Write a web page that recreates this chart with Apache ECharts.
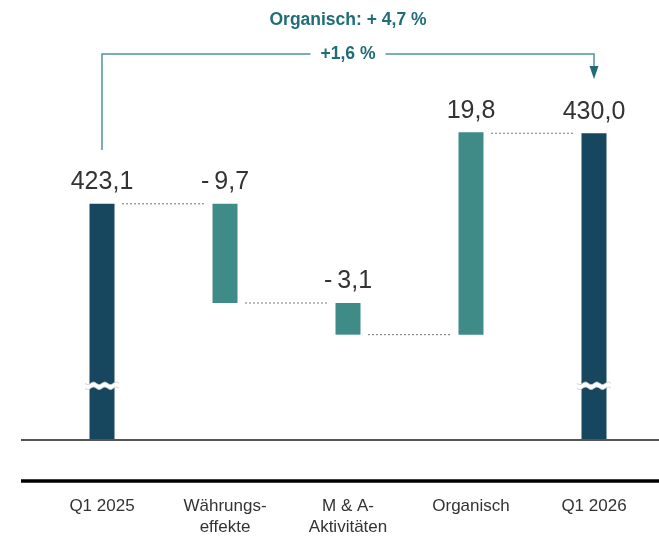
<!DOCTYPE html>
<html><head><meta charset="utf-8">
<script src="https://cdn.jsdelivr.net/npm/echarts@6/dist/echarts.min.js"></script>
<style>html,body{margin:0;padding:0;background:#fff}#c{width:659px;height:538px}</style>
</head><body><div id="c"></div>
<script>
const categories = ['Q1 2025', 'Währungs-\neffekte', 'M & A-\nAktivitäten', 'Organisch', 'Q1 2026'];
const values = [423.1, -9.7, -3.1, 19.8, 430.0];
const isTotal = [true, false, false, false, true];
const valueLabels = ['423,1', '-\u20099,7', '-\u20093,1', '19,8', '430,0'];
const annotationTop = 'Organisch: + 4,7 %';
const annotationBracket = '+1,6 %';
const axisMin = 400, axisMax = 440;
const breakValue = 405.3;

const DARK = '#17465f', TEAL = '#3f8b88', ANN = '#1f6d76', ANNLINE = '#4e949a';

const base = [], visible = [];
let running = 0;
values.forEach((v, i) => {
  if (isTotal[i]) { base.push(0); visible.push(v); running = v; }
  else if (v < 0) { running = running + v; base.push(+running.toFixed(1)); visible.push(-v); }
  else { base.push(+running.toFixed(1)); visible.push(v); running = running + v; }
});
const connectors = [];
for (let i = 0; i < values.length - 1; i++) {
  let lvl;
  if (isTotal[i]) lvl = values[i];
  else lvl = base[i] + (values[i] < 0 ? 0 : visible[i]);
  if (i === values.length - 2) lvl = values[values.length - 1];
  connectors.push([i, lvl]);
}
const breaks = values.map((v, i) => isTotal[i] ? [i, breakValue] : null).filter(Boolean);

const chart = echarts.init(document.getElementById('c'));
chart.setOption({
  animation: false,
  grid: { left: 40.5, right: 3.5, top: 31, bottom: 93 },
  xAxis: {
    type: 'category', data: categories,
    axisLine: { show: false }, axisTick: { show: false },
    axisLabel: { margin: 56, fontSize: 17, lineHeight: 21, color: '#333', fontFamily: 'Liberation Sans' }
  },
  yAxis: { type: 'value', min: axisMin, max: axisMax, show: false, splitLine: { show: false } },
  series: [
    { type: 'bar', stack: 'w', data: base, barWidth: 25, itemStyle: { color: 'transparent' }, silent: true },
    {
      type: 'bar', stack: 'w', barWidth: 25,
      data: visible.map((v, i) => ({ value: v, itemStyle: { color: isTotal[i] ? DARK : TEAL } })),
      label: {
        show: true, position: 'top', distance: 9, fontSize: 25, color: '#333',
        fontFamily: 'Liberation Sans', formatter: p => valueLabels[p.dataIndex]
      }
    },
    {
      type: 'custom', data: connectors, silent: true, z: 1,
      renderItem: (params, api) => {
        const i = api.value(0), lvl = api.value(1);
        const p1 = api.coord([i, lvl]), p2 = api.coord([i + 1, lvl]);
        return { type: 'line', shape: { x1: p1[0] + 20, y1: p1[1], x2: p2[0] - 20, y2: p2[1] },
          style: { stroke: '#777', lineWidth: 1, lineDash: [2, 2] } };
      }
    },
    {
      type: 'custom', data: breaks, silent: true, z: 5,
      renderItem: (params, api) => {
        const c = api.coord([api.value(0), api.value(1)]);
        const w = 34, x0 = c[0] - w / 2, y = c[1];
        const top = [], bot = [];
        const n = 24;
        for (let k = 0; k <= n; k++) {
          const x = x0 + w * k / n;
          const dy = 1.3 * Math.sin(k / n * Math.PI * 6);
          top.push([x, y - 2.5 + dy]); bot.push([x, y + 2.5 + dy]);
        }
        return { type: 'group', children: [
          { type: 'polygon', shape: { points: top.concat(bot.slice().reverse()) }, style: { fill: '#fff' } },
          { type: 'polyline', shape: { points: top }, style: { stroke: '#c8c8c8', lineWidth: 0.8, fill: null } },
          { type: 'polyline', shape: { points: bot }, style: { stroke: '#c8c8c8', lineWidth: 0.8, fill: null } }
        ]};
      }
    }
  ]
});

const xa = chart.convertToPixel({ xAxisIndex: 0 }, 0);
const xb = chart.convertToPixel({ xAxisIndex: 0 }, values.length - 1);
const yBase = chart.convertToPixel({ yAxisIndex: 0 }, axisMin);
const mid = (xa + xb) / 2;
chart.setOption({
  graphic: [
    { type: 'line', shape: { x1: 21, y1: yBase, x2: 659, y2: yBase }, style: { stroke: '#555', lineWidth: 2 }, z: 10 },
    { type: 'line', shape: { x1: 21, y1: 481, x2: 659, y2: 481 }, style: { stroke: '#000', lineWidth: 3.5 }, z: 10 },
    { type: 'polyline', shape: { points: [[xa, 150], [xa, 54], [xb, 54], [xb, 68]] }, style: { stroke: ANNLINE, lineWidth: 1.5, fill: null }, z: 10 },
    { type: 'polygon', shape: { points: [[xb - 4.5, 66], [xb + 4.5, 66], [xb, 79]] }, style: { fill: '#1f6d76' }, z: 10 },
    { type: 'text', x: mid, y: 54, z: 11, style: { text: annotationBracket, fill: ANN, font: 'bold 17.5px "Liberation Sans"', align: 'center', verticalAlign: 'middle', backgroundColor: '#fff', padding: [2, 10] } },
    { type: 'text', x: mid, y: 20, z: 11, style: { text: annotationTop, fill: ANN, font: 'bold 17.5px "Liberation Sans"', align: 'center', verticalAlign: 'middle' } }
  ]
});
</script></body></html>
